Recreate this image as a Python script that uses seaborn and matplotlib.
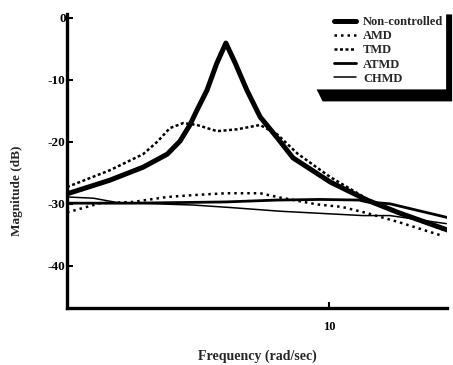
import matplotlib
matplotlib.use("Agg")
import matplotlib.pyplot as plt
from matplotlib.patches import Polygon
import seaborn as sns
import pandas as pd

# ---- data (frequency in rad/sec, magnitude in dB) ----
nc_freq = [2.0, 2.6, 3.19, 3.7, 4.0, 4.25, 4.44, 4.72, 5.01, 5.3, 5.61, 6.03, 6.54, 7.25, 8.0, 10.06, 12.6, 15.4, 20.6]
nc_mag = [-28.4, -26.2, -24.1, -22.0, -19.9, -17.3, -14.9, -11.7, -7.4, -4.1, -7.3, -11.7, -16.0, -19.3, -22.6, -26.5, -29.4, -31.5, -34.2]

tmd_freq = [2.0, 2.6, 3.19, 3.48, 3.76, 4.08, 4.44, 5.02, 5.68, 6.54, 7.26, 8.22, 10.06, 12.6, 15.4, 20.6]
tmd_mag = [-27.3, -24.6, -22.0, -20.0, -17.8, -17.0, -17.3, -18.3, -18.0, -17.3, -18.8, -21.9, -25.7, -29.2, -31.6, -34.4]

amd_freq = [2.0, 2.45, 3.0, 3.7, 4.34, 5.3, 6.54, 7.4, 8.9, 9.28, 10.8, 12.6, 15.4, 20.1]
amd_mag = [-31.4, -29.9, -29.7, -28.9, -28.6, -28.3, -28.3, -29.0, -29.9, -30.1, -30.5, -31.5, -33.0, -35.2]

atmd_freq = [2.0, 3.0, 5.3, 7.26, 9.44, 12.0, 12.6, 14.5, 20.6]
atmd_mag = [-29.9, -29.9, -29.7, -29.4, -29.3, -29.4, -29.7, -30.0, -32.2]

chmd_freq = [2.0, 2.35, 2.72, 4.34, 5.44, 7.4, 12.3, 14.5, 20.5]
chmd_mag = [-28.9, -29.1, -29.8, -30.2, -30.6, -31.2, -31.9, -31.9, -33.2]

series_names = ["Non-controlled", "AMD", "TMD", "ATMD", "CHMD"]
y_ticks = [0, -10, -20, -30, -40]
x_ticks = [10]

# ---- style ----
sns.set_theme(style="ticks")
plt.rcParams["font.family"] = ["Liberation Serif", "DejaVu Serif"]
plt.rcParams["font.weight"] = "bold"

fig = plt.figure(figsize=(4.53, 3.65), dpi=100)
ax = fig.add_axes([0.148, 0.156, 0.839, 0.806])

data = {
    "Non-controlled": (nc_freq, nc_mag, dict(lw=3.6, ls="-")),
    "AMD": (amd_freq, amd_mag, dict(lw=1.8, ls=(0, (1.0, 1.6)))),
    "TMD": (tmd_freq, tmd_mag, dict(lw=1.8, ls=(0, (1.2, 1.0)))),
    "ATMD": (atmd_freq, atmd_mag, dict(lw=2.0, ls="-")),
    "CHMD": (chmd_freq, chmd_mag, dict(lw=1.1, ls="-")),
}

for name in series_names:
    f, m, st = data[name]
    df = pd.DataFrame({"freq": f, "mag": m})
    sns.lineplot(data=df, x="freq", y="mag", ax=ax, color="black",
                 linewidth=st["lw"], linestyle=st["ls"], label=name,
                 sort=False, estimator=None)

ax.set_xscale("log")
ax.set_xlim(2.0, 20.6)
ax.set_ylim(-46.8, 0.6)
ax.set_xticks(x_ticks)
ax.set_xticklabels([str(t) for t in x_ticks])
ax.xaxis.set_minor_locator(matplotlib.ticker.NullLocator())
ax.set_yticks(y_ticks)
ax.set_yticklabels([str(t) for t in y_ticks])

for s in ["top", "right"]:
    ax.spines[s].set_visible(False)
for s in ["left", "bottom"]:
    ax.spines[s].set_linewidth(2.4)
    ax.spines[s].set_color("black")

ax.tick_params(axis="both", direction="in", length=4, width=1.5, pad=1,
               labelsize=9.5, colors="black")
ax.tick_params(axis="x", pad=9, labelsize=9)
for lab in ax.get_xticklabels() + ax.get_yticklabels():
    lab.set_fontweight("bold")

ax.set_xlabel("Frequency (rad/sec)", fontsize=10, fontweight="bold", labelpad=12)
ax.set_ylabel("Magnitude (dB)", fontsize=9.5, fontweight="bold")
ax.yaxis.set_label_coords(-0.115, 0.40)

leg = ax.legend(loc="upper right", bbox_to_anchor=(1.0, 1.005), frameon=False,
                fontsize=9, handlelength=1.75, handletextpad=0.55,
                labelspacing=0.17, borderpad=0.3, borderaxespad=0.0)
for t in leg.get_texts():
    t.set_fontweight("bold")
leg.set_zorder(6)

fig.canvas.draw()
bb = leg.get_window_extent()
inv = ax.transAxes.inverted()
pts_disp = [
    (bb.x1 - 1, bb.y1 - 2),
    (bb.x1 + 5, bb.y1 - 2),
    (bb.x1 + 5, bb.y0 - 13),
    (bb.x0 - 8, bb.y0 - 13),
    (bb.x0 - 14, bb.y0 - 1),
    (bb.x1 - 1, bb.y0 - 1),
]
pts_ax = inv.transform(pts_disp)
shadow = Polygon(pts_ax, closed=True, transform=ax.transAxes,
                 facecolor="black", edgecolor="none", zorder=5, clip_on=False)
ax.add_patch(shadow)

fig.savefig("out.png", dpi=100)
